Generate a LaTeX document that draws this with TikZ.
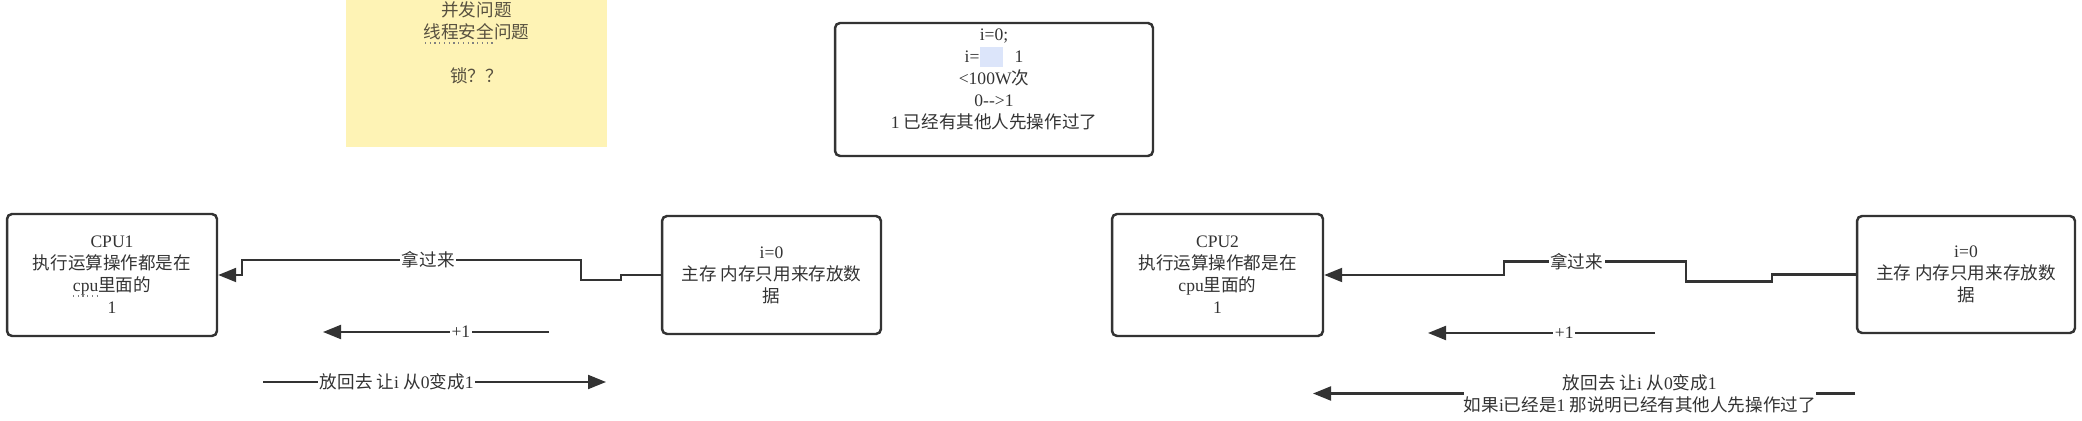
\documentclass[tikz,border=0pt]{standalone}
\usepackage{fontspec}
\setmainfont{Liberation Serif}
\newfontfamily\cjk{Noto Sans CJK SC}
\usetikzlibrary{
  arrows.meta,
  positioning,  % Function "of" (e.g. [right=of x])
}
\newcommand{\zh}[1]{{\cjk #1}}
\definecolor{inkgray}{HTML}{333333}
\definecolor{notefill}{HTML}{FEF3B5}
\definecolor{noteink}{HTML}{57503F}
\definecolor{selblue}{HTML}{DCE5FA}
\tikzset{
  >={Triangle[length=0.36cm,width=0.28cm]},
  my text/.style={
    text=inkgray,
    align=center,
    font=\fontsize{10}{12.5}\selectfont
  },
  my box/.style={
    my text,
    draw=inkgray,
    line width=1.4pt,
    rounded corners=1mm,
    inner sep=0pt,
    rectangle
  },
  my note/.style={
    my text,
    text=noteink,
    fill=notefill,
    draw=none,
    inner sep=0pt,
    minimum width=5.22cm,
    minimum height=4.16cm
  },
  flow/.style={
    ->,
    draw=inkgray,
    line width=1.2pt
  },
  tag/.style={
    my text,
    fill=white,
    inner sep=1pt
  },
  spell/.style={
    draw=gray,
    dotted,
    line width=0.7pt
  }
}

\begin{document}
\begin{tikzpicture}[x=0.02cm,y=-0.02cm]
\path[use as bounding box] (0,0) rectangle (2082,421);
\clip (0,0) rectangle (2082,421);
% sticky note
\node[my note] (note) at (476.5,43)
  {\zh{并发问题}\\\zh{线程安全问题}\\[0.43cm]\zh{锁？？}};
\draw[spell] (425,43) -- (493,43);
% top box
\node[my box,minimum width=6.36cm,minimum height=2.66cm] (task) at (994,89.5)
  {i=0;\\
   i=\textcolor{selblue}{\rule[-2.5pt]{0.46cm}{0.4cm}}\hspace{0.24cm}1\\
   <100W\zh{次}\\
   0-{}-{}>1\\
   1 \zh{已经有其他人先操作过了}\\
   \mbox{}};
% left pair
\node[my box,minimum width=4.2cm,minimum height=2.44cm] (cpu1) at (112,275)
  {CPU1\\\zh{执行运算操作都是在}\\cpu\zh{里面的}\\1};
\draw[spell] (73,296) -- (99,296);
\node[my box,minimum width=4.38cm,minimum height=2.36cm] (mem1) at (771.5,275)
  {i=0\\\zh{主存 内存只用来存放数}\\\zh{据}};
% right pair
\node[my box,minimum width=4.22cm,minimum height=2.44cm] (cpu2) at (1217.5,275)
  {CPU2\\\zh{执行运算操作都是在}\\cpu\zh{里面的}\\1};
\node[my box,minimum width=4.36cm,minimum height=2.34cm] (mem2) at (1966,274.5)
  {i=0\\\zh{主存 内存只用来存放数}\\\zh{据}};
% free arrow ends
\coordinate (inc1)     at (549,332);
\coordinate (inc1end)  at (323,332);
\coordinate (back1)    at (263,382);
\coordinate (back1end) at (606,382);
\coordinate (inc2)     at (1655,333);
\coordinate (inc2end)  at (1428,333);
\coordinate (back2)    at (1855,393.5);
\coordinate (back2end) at (1313,393.5);
% connectors
\draw[flow] (mem1.west) -- ++(-40,0) -- ++(0,5) -- ++(-40,0) -- ++(0,-20)
  -- node[tag,pos=0.45] (take1) {\zh{拿过来}} ++(-339,0) |- (cpu1.east);
\draw[flow] (inc1) -- node[tag,pos=0.39] (plus1) {+1} (inc1end);
\draw[flow] (back1) -- node[tag,pos=0.39] (put1)
  {\zh{放回去 让}i \zh{从}0\zh{变成}1} (back1end);
\draw[flow] (mem2.west) -- ++(-84,0) -- ++(0,7) -- ++(-86,0) -- ++(0,-20)
  -- node[tag,pos=0.6] (take2) {\zh{拿过来}} ++(-182,0) |- (cpu2.east);
\draw[flow] (inc2) -- node[tag,pos=0.4] (plus2) {+1} (inc2end);
\draw[flow] (back2) -- node[tag,pos=0.397,inner sep=0pt] (put2)
  {\zh{放回去 让}i \zh{从}0\zh{变成}1\\
   \zh{如果}i\zh{已经是}1 \zh{那说明已经有其他人先操作过了}} (back2end);
\end{tikzpicture}
\end{document}
